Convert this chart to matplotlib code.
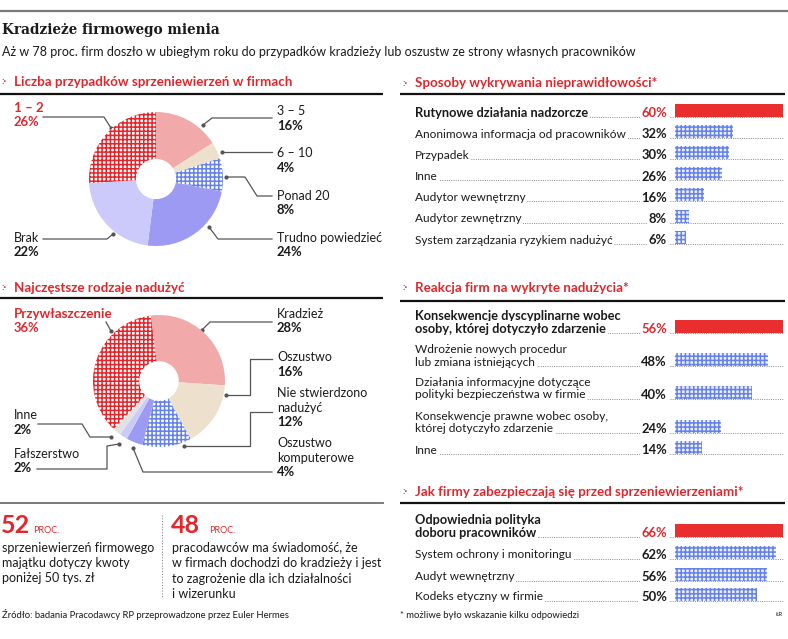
import matplotlib
matplotlib.use('Agg')
import matplotlib.pyplot as plt

plt.rcParams['font.family'] = ['Lato', 'DejaVu Sans']
plt.rcParams['hatch.linewidth'] = 1.1

W, H = 788, 639
RED = '#e3262b'
BAR_RED = '#ea2e2e'
HATCH_BLUE = '#6482ea'
INK = '#1a1a1a'
LEAD = '#555555'

# ---------------------------------------------------------------------------------------------
# data

cases_labels = ['3 – 5', '6 – 10', 'Ponad 20', 'Trudno powiedzieć', 'Brak', '1 – 2']
cases_values = [16, 4, 8, 24, 22, 26]
cases_colors = ['#f2a9a9', '#ede0cc', HATCH_BLUE, '#9d9af3', '#cbcafa', RED]
cases_hatch = [None, None, '++++', None, None, '++++']

abuse_labels = ['Kradzież', 'Oszustwo', 'Nie stwierdzono\nnadużyć', 'Oszustwo\nkomputerowe',
                'Fałszerstwo', 'Inne', 'Przywłaszczenie']
abuse_values = [28, 16, 12, 4, 2, 2, 36]
abuse_colors = ['#f2a9a9', '#ede0cc', HATCH_BLUE, '#9d9af3', '#cbcafa', '#e2e2e2', RED]
abuse_hatch = [None, None, '++++', None, None, None, '++++']

detect_labels = ['Rutynowe działania nadzorcze', 'Anonimowa informacja od pracowników', 'Przypadek',
                 'Inne', 'Audytor wewnętrzny', 'Audytor zewnętrzny',
                 'System zarządzania ryzykiem nadużyć']
detect_values = [60, 32, 30, 26, 16, 8, 6]

reaction_labels = ['Konsekwencje dyscyplinarne wobec\nosoby, której dotyczyło zdarzenie',
                   'Wdrożenie nowych procedur\nlub zmiana istniejących',
                   'Działania informacyjne dotyczące\npolityki bezpieczeństwa w firmie',
                   'Konsekwencje prawne wobec osoby,\nktórej dotyczyło zdarzenie',
                   'Inne']
reaction_values = [56, 48, 40, 24, 14]

protect_labels = ['Odpowiednia polityka\ndoboru pracowników', 'System ochrony i monitoringu',
                  'Audyt wewnętrzny', 'Kodeks etyczny w firmie']
protect_values = [66, 62, 56, 50]

# ---------------------------------------------------------------------------------------------

fig = plt.figure(figsize=(W / 100, H / 100), dpi=100)
canvas = fig.add_axes([0, 0, 1, 1])
canvas.set_xlim(0, W)
canvas.set_ylim(H, 0)
canvas.axis('off')


def frac(x0, y0, x1, y1):
    # pixel box -> figure fraction
    return [x0 / W, 1 - y1 / H, (x1 - x0) / W, (y1 - y0) / H]


def header(x, y, text, x_line0, x_line1, y_line):
    canvas.text(x - 13, y, ':·', color=RED, fontsize=7, fontweight='bold', va='center')
    canvas.text(x, y, text, color=RED, fontsize=9.6, fontweight='bold', va='center')
    canvas.plot([x_line0, x_line1], [y_line, y_line], color='#111111', lw=1.6, solid_capstyle='butt')


def donut(cx, cy, r, values, colors, hatches, start):
    pax = fig.add_axes(frac(cx - r, cy - r, cx + r, cy + r))
    wedges, _ = pax.pie(values, colors=colors, startangle=start, counterclock=False,
                        wedgeprops=dict(width=0.7, linewidth=0))
    for w, h, c in zip(wedges, hatches, colors):
        if h:
            w.set_facecolor('white')
            w.set_edgecolor(c)
            w.set_hatch(h)
    pax.set_xlim(-1, 1)
    pax.set_ylim(-1, 1)
    pax.axis('off')


def pie_label(x, y, name, value, color=INK, bold_name=False):
    lines = name.split('\n')
    for i, line in enumerate(lines):
        canvas.text(x, y + i * 14.5, line, fontsize=9.6 if bold_name else 9, color=color,
                    fontweight='bold' if bold_name else 'normal', va='center')
    canvas.text(x, y + len(lines) * 14.5, f'{value}%', fontsize=9.4, color=color,
                fontweight='bold', va='center')


def leader(xs, ys):
    canvas.plot(xs, ys, color=LEAD, lw=0.9)
    canvas.plot(xs[-1], ys[-1], 'o', color=LEAD, ms=2)


def bar_block(labels, values, rows_y):
    for i, (lab, val, y) in enumerate(zip(labels, values, rows_y)):
        top = i == 0
        lines = lab.split('\n')
        for j, line in enumerate(lines):
            yy = y - (len(lines) - 1 - j) * 12.5
            box = dict(facecolor='white', edgecolor='none', pad=1.2) if j == len(lines) - 1 else None
            canvas.text(415, yy, line, fontsize=9.2 if top else 8.6, color=INK, va='center',
                        fontweight='bold' if top else 'normal', bbox=box, zorder=3)
        canvas.text(667, y, f'{val}%', fontsize=9.4, fontweight='bold', va='center', ha='right',
                    color=RED if top else INK,
                    bbox=dict(facecolor='white', edgecolor='none', pad=1.2), zorder=3)
        canvas.plot([415, 783], [y + 3.5, y + 3.5], color='#8a8a8a', lw=0.7,
                    ls=(0, (1, 1.3)), zorder=1)

    y_top = rows_y[0] - 14
    y_bot = rows_y[-1] + 6
    bax = fig.add_axes(frac(675, y_top, 783, y_bot))
    bars = bax.barh([y - 3 for y in rows_y], values, height=13, color='#eef0fd', linewidth=0)
    for k, b in enumerate(bars):
        if k == 0:
            b.set_facecolor(BAR_RED)
        else:
            b.set_edgecolor(HATCH_BLUE)
            b.set_hatch('++++')
    bax.set_xlim(0, max(values))
    bax.set_ylim(y_bot, y_top)
    bax.axis('off')


# ---------------------------------------------------------------------------------------------
# title block

canvas.plot([0, W], [11, 11], color='#7a7a7a', lw=1.6)
canvas.text(2, 30, 'Kradzieże firmowego mienia', family='DejaVu Serif', fontsize=9.8,
            fontweight='bold', color=INK, va='center')
canvas.text(2, 52, 'Aż w 78 proc. firm doszło w ubiegłym roku do przypadków kradzieży lub oszustw '
            'ze strony własnych pracowników', fontsize=9, color=INK, va='center')

# ---------------------------------------------------------------------------------------------
# left: pie charts

header(14, 82, 'Liczba przypadków sprzeniewierzeń w firmach', 0, 383, 94)
donut(156, 179, 67, cases_values, cases_colors, cases_hatch, 90)

pie_label(14, 108, cases_labels[5], cases_values[5], color=RED, bold_name=True)
leader([43, 104, 111], [117, 117, 128])
pie_label(277, 111, cases_labels[0], cases_values[0])
leader([272, 212, 203], [118, 118, 125])
pie_label(277, 153, cases_labels[1], cases_values[1])
leader([272, 222], [152, 152])
pie_label(277, 196, cases_labels[2], cases_values[2])
leader([272, 257, 245, 226], [196, 196, 177, 177])
pie_label(277, 238, cases_labels[3], cases_values[3])
leader([272, 218, 209], [239, 239, 227])
pie_label(14, 238, cases_labels[4], cases_values[4])
leader([43, 107, 113], [239, 239, 234])

header(14, 288, 'Najczęstsze rodzaje nadużyć', 0, 383, 298)
donut(159, 381, 66, abuse_values, abuse_colors, abuse_hatch, 97)

pie_label(14, 314, abuse_labels[6], abuse_values[6], color=RED, bold_name=True)
leader([106, 111], [322, 331])
pie_label(277, 314, abuse_labels[0], abuse_values[0])
leader([272, 210, 202], [322, 322, 330])
pie_label(277, 357, abuse_labels[1], abuse_values[1])
leader([272, 250, 250, 226], [359, 359, 395, 395])
pie_label(277, 393, abuse_labels[2], abuse_values[2])
leader([272, 250, 250, 184], [412, 412, 446, 446])
pie_label(277, 443, abuse_labels[3], abuse_values[3])
leader([272, 143, 133], [472, 472, 448])
pie_label(14, 415, abuse_labels[5], abuse_values[5])
leader([38, 82, 90, 111], [424, 424, 437, 437])
pie_label(14, 454, abuse_labels[4], abuse_values[4])
leader([37, 107, 107, 119], [469, 469, 446, 444])

# ---------------------------------------------------------------------------------------------
# left bottom: key numbers

canvas.plot([0, 383], [503, 503], color='#7a7a7a', lw=1.4)
canvas.text(1, 533, '52', fontsize=18, fontweight='bold', color=RED, va='baseline')
canvas.text(33, 533, 'PROC.', fontsize=6.5, color=RED, va='baseline')
for i, line in enumerate(['sprzeniewierzeń firmowego', 'majątku dotyczy kwoty', 'poniżej 50 tys. zł']):
    canvas.text(2, 548 + i * 15, line, fontsize=9, color=INK, va='center')

canvas.plot([162, 162], [515, 597], color='#888888', lw=0.8, ls=(0, (1, 1.5)))
canvas.text(171, 533, '48', fontsize=18, fontweight='bold', color=RED, va='baseline')
canvas.text(209, 533, 'PROC.', fontsize=6.5, color=RED, va='baseline')
for i, line in enumerate(['pracodawców ma świadomość, że', 'w firmach dochodzi do kradzieży i jest',
                          'to zagrożenie dla ich działalności', 'i wizerunku']):
    canvas.text(172, 548 + i * 15.3, line, fontsize=9, color=INK, va='center')

canvas.text(2, 615, 'Źródło: badania Pracodawcy RP przeprowadzone przez Euler Hermes',
            fontsize=6.8, color=INK, va='center')

# ---------------------------------------------------------------------------------------------
# right: bar lists

header(415, 83, 'Sposoby wykrywania nieprawidłowości*', 400, 785, 94)
bar_block(detect_labels, detect_values, [113 + 21.2 * i for i in range(len(detect_values))])

header(415, 288, 'Reakcja firm na wykryte nadużycia*', 400, 785, 301)
bar_block(reaction_labels, reaction_values, [329, 362, 395, 429, 450])

header(415, 492, 'Jak firmy zabezpieczają się przed sprzeniewierzeniami*', 400, 785, 503)
bar_block(protect_labels, protect_values, [533, 555, 577, 597])

canvas.text(400, 615, '* możliwe było wskazanie kilku odpowiedzi', fontsize=6.8, color=INK, va='center')
canvas.text(776, 615, 'ŁR', fontsize=4.5, color=INK, va='center')

fig.savefig('out.png', dpi=100)
